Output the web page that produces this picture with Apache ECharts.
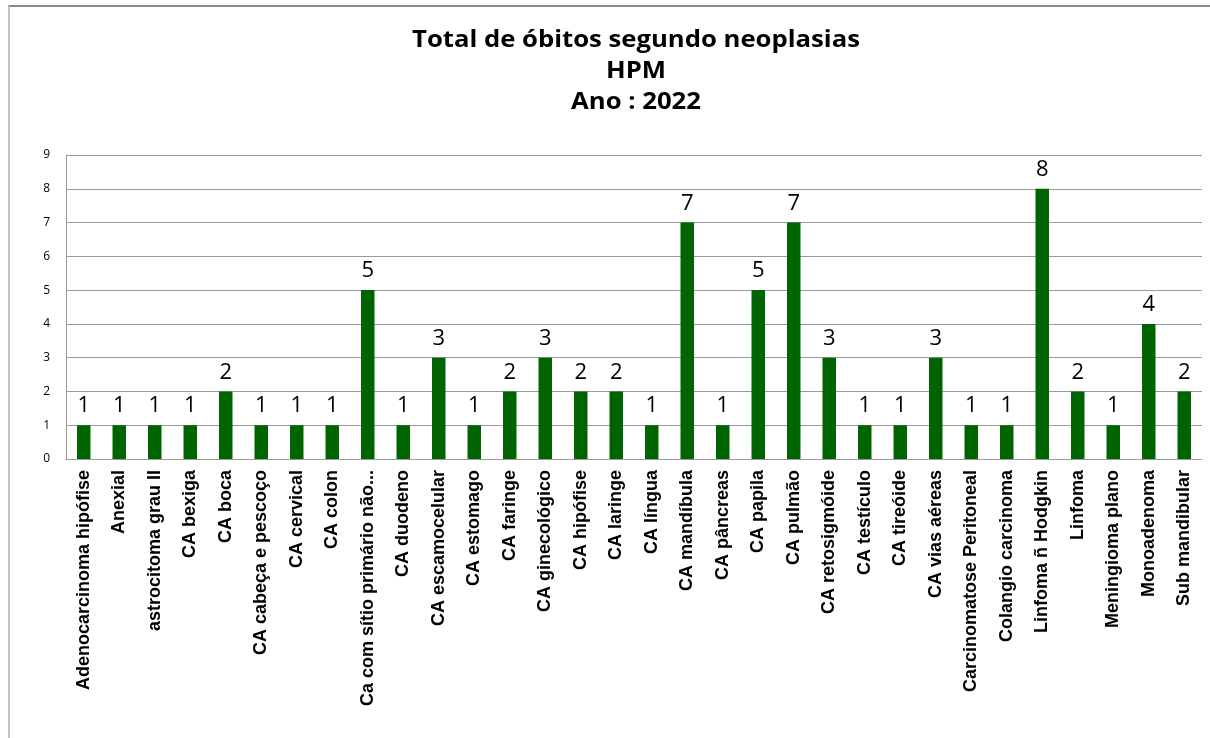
<!DOCTYPE html>
<html>
<head>
<meta charset="utf-8">
<script src="https://cdn.jsdelivr.net/npm/echarts@6/dist/echarts.min.js"></script>
<style>
  html, body { margin: 0; padding: 0; background: #fff; }
  #frame {
    position: absolute; left: 8px; top: 5px; width: 1202px; height: 733px;
    border-left: 2px solid #c4c4c4; border-top: 2px solid #8c8c8c;
    box-sizing: border-box;
  }
  #chart { position: absolute; left: 0; top: 0; width: 1210px; height: 738px; }
</style>
</head>
<body>
<div id="frame"></div>
<div id="chart"></div>
<script>
// ─── Data ─────────────────────────────────────────────────────────────────
const categories = [
  "Adenocarcinoma hipófise", "Anexial", "astrocitoma grau II", "CA bexiga",
  "CA boca", "CA cabeça e pescoço", "CA cervical", "CA colon",
  "Ca com sítio primário não...", "CA duodeno", "CA escamocelular",
  "CA estomago", "CA faringe", "CA ginecológico", "CA hipófise",
  "CA laringe", "CA língua", "CA mandíbula", "CA pâncreas", "CA papila",
  "CA pulmão", "CA retosigmóide", "CA testículo", "CA tireóide",
  "CA vias aéreas", "Carcinomatose Peritoneal", "Colangio carcinoma",
  "Linfoma ñ Hodgkin", "Linfoma", "Meningioma plano", "Monoadenoma",
  "Sub mandibular"
];
const obitos = [1, 1, 1, 1, 2, 1, 1, 1, 5, 1, 3, 1, 2, 3, 2, 2, 1, 7, 1, 5, 7, 3, 1, 1, 3, 1, 1, 8, 2, 1, 4, 2];
const titleLines = ["Total de óbitos segundo neoplasias", "HPM", "Ano : 2022"];

// ─── Chart ────────────────────────────────────────────────────────────────
const chart = echarts.init(document.getElementById('chart'));
const gridColor = '#9a9a9a';

chart.setOption({
  animation: false,
  // title drawn as three centred lines (block is a bit right of the page centre)
  graphic: titleLines.map((t, i) => ({
    type: 'text',
    x: 636,
    y: 40 + i * 31,
    scaleX: 1.07,
    style: {
      text: t,
      textAlign: 'center',
      textVerticalAlign: 'middle',
      fontFamily: 'Open Sans',
      fontWeight: 'bold',
      fontSize: 24,
      fill: '#000'
    }
  })),
  grid: { left: 66, right: 8, top: 155, bottom: 279 },
  xAxis: {
    type: 'category',
    data: categories,
    axisLine: { lineStyle: { color: gridColor, width: 1 } },
    axisTick: { show: false },
    axisLabel: {
      interval: 0,
      rotate: 90,
      margin: 11,
      color: '#000',
      fontFamily: 'Liberation Sans',
      fontWeight: 'bold',
      fontSize: 18
    }
  },
  yAxis: {
    type: 'value',
    min: 0,
    max: 9,
    interval: 1,
    axisLine: { show: true, lineStyle: { color: gridColor, width: 1 } },
    axisTick: { show: false },
    splitLine: { lineStyle: { color: gridColor, width: 1 } },
    axisLabel: {
      margin: 16,
      color: '#000',
      fontFamily: 'Open Sans',
      fontSize: 12
    }
  },
  series: [{
    type: 'bar',
    data: obitos,
    barWidth: '38%',
    itemStyle: { color: '#006400' },
    label: {
      show: true,
      position: 'top',
      distance: 8,
      color: '#000',
      fontFamily: 'Open Sans',
      fontSize: 22
    }
  }]
});
</script>
</body>
</html>
